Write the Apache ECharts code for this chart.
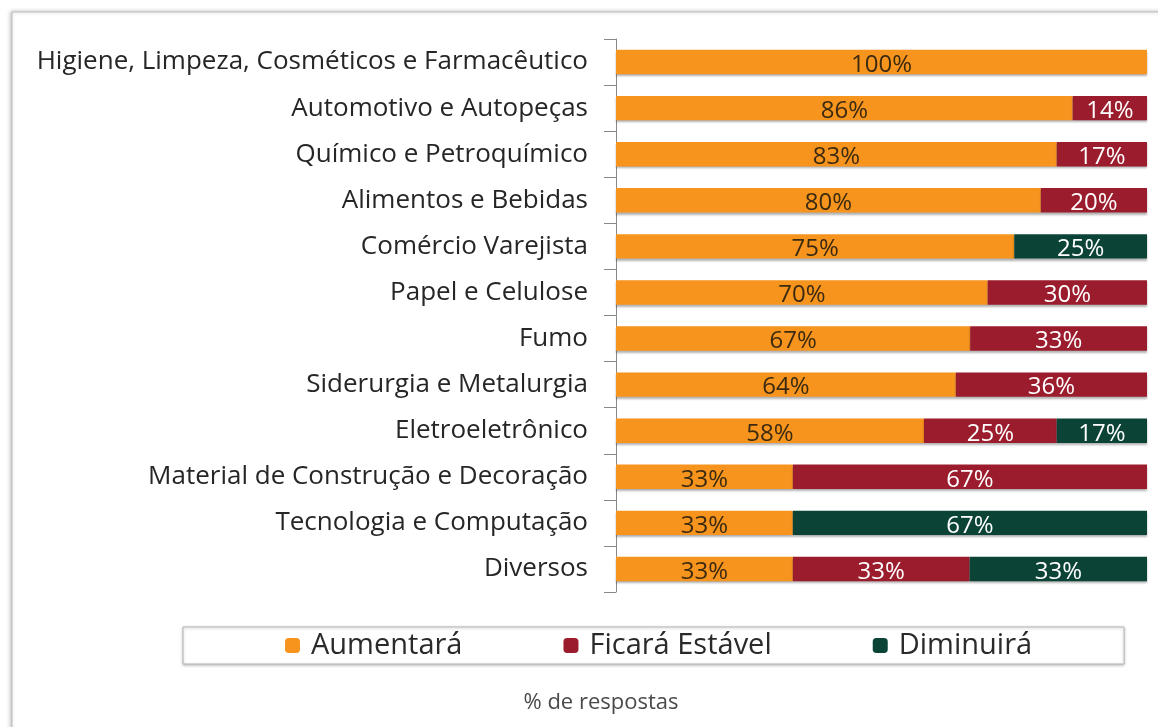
<!DOCTYPE html>
<html>
<head>
<meta charset="utf-8">
<script src="https://cdn.jsdelivr.net/npm/echarts@6/dist/echarts.min.js"></script>
<style>
  html, body { margin: 0; height: 100%; background: #fff; }
  #chart { width: 1158px; height: 727px; }
</style>
</head>
<body>
<div id="chart"></div>
<script>
  const categories = [
    'Higiene, Limpeza, Cosméticos e Farmacêutico',
    'Automotivo e Autopeças',
    'Químico e Petroquímico',
    'Alimentos e Bebidas',
    'Comércio Varejista',
    'Papel e Celulose',
    'Fumo',
    'Siderurgia e Metalurgia',
    'Eletroeletrônico',
    'Material de Construção e Decoração',
    'Tecnologia e Computação',
    'Diversos'
  ];
  // % de respostas (labels are rounded; thirds kept at one decimal so bars reach 100)
  const aumentara = [100, 86, 83, 80, 75, 70, 66.7, 64, 58, 33.3, 33.3, 33.3];
  const estavel   = [0, 14, 17, 20, 0, 30, 33.3, 36, 25, 66.7, 0, 33.3];
  const diminuira = [0, 0, 0, 0, 25, 0, 0, 0, 17, 0, 66.7, 33.4];

  const mChart = echarts.init(document.getElementById('chart'), null, { renderer: 'canvas' });

  const labelFont = "'Open Sans', sans-serif";
  const fmt = p => (p.value ? Math.round(p.value) + '%' : '');

  const mkSeries = (name, data, color, textColor) => ({
    name: name,
    type: 'bar',
    stack: 'total',
    data: data,
    barWidth: '53%',
    itemStyle: {
      color: color,
      shadowColor: 'rgba(0,0,0,0.3)',
      shadowBlur: 2,
      shadowOffsetY: 2
    },
    label: {
      show: true,
      position: 'inside',
      offset: [0, 3],
      formatter: fmt,
      color: textColor,
      fontFamily: labelFont,
      fontSize: 24
    }
  });

  const option = {
    animation: false,
    backgroundColor: '#fff',
    graphic: [{
      type: 'rect',
      z: -10,
      shape: { x: 12, y: 12, width: 1200, height: 800 },
      style: {
        fill: '#fff',
        stroke: '#bdbdbd',
        lineWidth: 1,
        shadowBlur: 4,
        shadowColor: 'rgba(0,0,0,0.25)',
        shadowOffsetX: -1
      }
    }, {
      type: 'text',
      x: 601,
      y: 703,
      style: {
        text: '% de respostas',
        fill: '#4a4a4a',
        font: "22px 'Open Sans', sans-serif",
        align: 'center',
        verticalAlign: 'middle'
      }
    }],
    grid: { left: 616, right: 11, top: 39, bottom: 135 },
    legend: {
      bottom: 63,
      left: 183,
      itemWidth: 15,
      itemHeight: 15,
      itemGap: 101,
      padding: [4, 92, 4, 102],
      borderColor: '#b5b5b5',
      borderWidth: 1,
      backgroundColor: '#fff',
      shadowColor: 'rgba(0,0,0,0.25)',
      shadowBlur: 3,
      shadowOffsetY: 1,
      textStyle: {
        fontFamily: labelFont,
        fontSize: 29,
        lineHeight: 29,
        color: '#2a2a2a',
        padding: [0, 0, 0, 6]
      },
      data: ['Aumentará', 'Ficará Estável', 'Diminuirá']
    },
    xAxis: {
      type: 'value',
      min: 0,
      max: 100,
      show: false
    },
    yAxis: {
      type: 'category',
      inverse: true,
      data: categories,
      axisLine: { show: true, lineStyle: { color: '#888' } },
      axisTick: { show: true, length: 12, lineStyle: { color: '#888' } },
      axisLabel: { margin: 28, color: '#262626', fontFamily: labelFont, fontSize: 26 }
    },
    series: [
      mkSeries('Aumentará', aumentara, '#F7941D', '#3b2a10'),
      mkSeries('Ficará Estável', estavel, '#9B1C2C', '#fff'),
      mkSeries('Diminuirá', diminuira, '#0B4437', '#fff')
    ]
  };

  mChart.setOption(option);
  window.addEventListener('resize', mChart.resize);
</script>
</body>
</html>
